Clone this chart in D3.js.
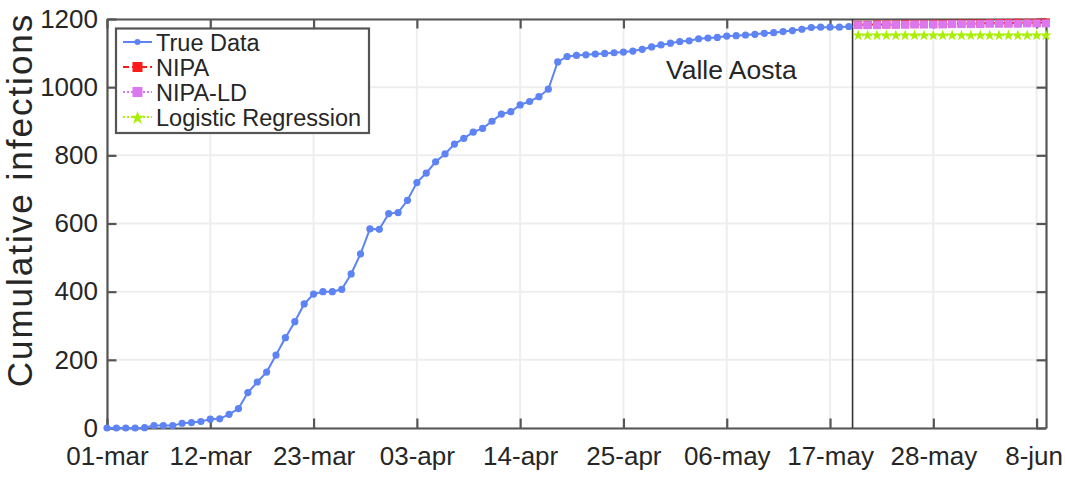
<!DOCTYPE html>
<html><head><meta charset="utf-8">
<script src="https://cdn.jsdelivr.net/npm/d3@7"></script>
<style>body{margin:0;background:#fff}svg{display:block}</style>
</head><body>
<svg id="c" width="1065" height="478"></svg>
<script>
// ---- data ----
const trueDays = d3.range(0, 80);
const trueData = [0,0,0,0,1,7,7,7,14,16,19,26,27,40,57,104,135,164,214,265,312,364,393,400,400,407,452,511,584,583,629,632,668,720,748,781,804,833,850,868,879,900,921,928,948,958,972,994,1074,1090,1093,1095,1097,1099,1101,1103,1106,1111,1118,1124,1129,1134,1136,1142,1144,1146,1150,1151,1153,1155,1158,1160,1163,1166,1170,1175,1176,1176,1176,1178];
const fcDays = d3.range(80, 101);
const nipa    = [1183,1183,1184,1184,1184,1185,1185,1185,1186,1186,1186,1187,1187,1187,1188,1188,1188,1189,1189,1189,1190];
const nipaLD  = [1182,1182,1182,1183,1183,1183,1184,1184,1184,1184,1185,1185,1185,1185,1186,1186,1186,1186,1187,1187,1187];
const logistic= [1152,1152,1152,1152,1152,1152,1152,1152,1152,1152,1152,1152,1152,1152,1152,1152,1152,1152,1152,1152,1152];
const xTickDays = [0,11,22,33,44,55,66,77,88,99];
const xTickLabels = ["01-mar","12-mar","23-mar","03-apr","14-apr","25-apr","06-may","17-may","28-may","8-jun"];
const yTicks = [0,200,400,600,800,1000,1200];
const splitDay = 79.4;
const seriesNames = ["True Data","NIPA","NIPA-LD","Logistic Regression"];
const colors = {true:"#5d83f4", nipa:"#ff1a1a", ld:"#dc78ef", lr:"#a8f000"};

// ---- layout ----
const L=107, R=1046, T=19, B=428;
const svg = d3.select("#c");
const x = d3.scaleLinear().domain([0,100]).range([L,R]);
const y = d3.scaleLinear().domain([0,1200]).range([B,T]);
const axisCol="#555", txt="#262626", font="Liberation Sans, Arial, sans-serif";

// grid
const g = svg.append("g");
g.selectAll(".gx").data(xTickDays).join("line")
 .attr("x1",d=>x(d)).attr("x2",d=>x(d)).attr("y1",T).attr("y2",B)
 .attr("stroke","#eeeeee").attr("stroke-width",2);
g.selectAll(".gy").data(yTicks).join("line")
 .attr("y1",d=>y(d)).attr("y2",d=>y(d)).attr("x1",L).attr("x2",R)
 .attr("stroke","#eeeeee").attr("stroke-width",2);

// axes with inward ticks
const tl = 9.5;
const xb = d3.axisBottom(x).tickValues(xTickDays).tickFormat((d,i)=>xTickLabels[i]).tickSizeInner(-tl).tickSizeOuter(0).tickPadding(19);
const xt = d3.axisTop(x).tickValues(xTickDays).tickFormat("").tickSizeInner(-tl).tickSizeOuter(0);
const yl = d3.axisLeft(y).tickValues(yTicks).tickFormat(d3.format("d")).tickSizeInner(-tl).tickSizeOuter(0).tickPadding(9);
const yr = d3.axisRight(y).tickValues(yTicks).tickFormat("").tickSizeInner(-tl).tickSizeOuter(0);
function style(sel){
  sel.selectAll("path").attr("stroke",axisCol).attr("stroke-width",2.2);
  sel.selectAll("line").attr("stroke",axisCol).attr("stroke-width",2.2);
  sel.selectAll("text").attr("fill",txt).attr("font-family",font).attr("font-size",26);
}
const xg = svg.append("g").attr("transform",`translate(0,${B})`).call(xb).call(style);
xg.selectAll(".tick text").filter((d,i)=>i===xTickDays.length-1).attr("dx",-3);
svg.append("g").attr("transform",`translate(0,${T})`).call(xt).call(style);
svg.append("g").attr("transform",`translate(${L},0)`).call(yl).call(style);
svg.append("g").attr("transform",`translate(${R},0)`).call(yr).call(style);

// y label
svg.append("text").attr("transform",`translate(32,200) rotate(-90)`)
 .attr("text-anchor","middle").attr("font-family",font).attr("font-size",35)
 .attr("letter-spacing",2.0).attr("fill",txt).text("Cumulative infections");

// split line
svg.append("line").attr("x1",x(splitDay)).attr("x2",x(splitDay)).attr("y1",T).attr("y2",B)
 .attr("stroke","#333").attr("stroke-width",1.6);

// annotation
svg.append("text").attr("x",666).attr("y",79).attr("font-family",font).attr("font-size",26.5)
 .attr("fill",txt).text("Valle Aosta");

// true data
const line = d3.line().x(d=>x(d[0])).y(d=>y(d[1]));
const td = trueDays.map((d,i)=>[d,trueData[i]]);
svg.append("path").datum(td).attr("d",line).attr("fill","none").attr("stroke",colors.true).attr("stroke-width",2);
svg.selectAll(".td").data(td).join("circle").attr("cx",d=>x(d[0])).attr("cy",d=>y(d[1])).attr("r",3.6).attr("fill",colors.true);

// forecasts
function sqSeries(vals,col,dash,sz){
  const dd=fcDays.map((d,i)=>[d,vals[i]]);
  svg.append("path").datum(dd).attr("d",line).attr("fill","none").attr("stroke",col).attr("stroke-width",2).attr("stroke-dasharray",dash);
  svg.selectAll(null).data(dd).join("rect").attr("x",d=>x(d[0])-sz/2).attr("y",d=>y(d[1])-sz/2).attr("width",sz).attr("height",sz).attr("fill",col);
}
sqSeries(nipa,colors.nipa,"6,3",8);
sqSeries(nipaLD,colors.ld,"2,2",8);
const lrd=fcDays.map((d,i)=>[d,logistic[i]]);
svg.append("path").datum(lrd).attr("d",line).attr("fill","none").attr("stroke",colors.lr).attr("stroke-width",2).attr("stroke-dasharray","2,2");
const star=d3.symbol().type(d3.symbolStar).size(40);
svg.selectAll(null).data(lrd).join("path").attr("d",star).attr("transform",d=>`translate(${x(d[0])},${y(d[1])})`).attr("fill",colors.lr);

// legend
const lg = svg.append("g");
lg.append("rect").attr("x",116).attr("y",28.5).attr("width",253).attr("height",104.5).attr("fill","#fff").attr("stroke",axisCol).attr("stroke-width",2.2);
const rows=[42,67,92,117];
const lx1=123, lx2=152, lmx=137.5;
seriesNames.forEach((n,i)=>{
  const yy=rows[i];
  const col=[colors.true,colors.nipa,colors.ld,colors.lr][i];
  const dash=[null,"6,3","2,2","2,2"][i];
  lg.append("line").attr("x1",lx1).attr("x2",lx2).attr("y1",yy).attr("y2",yy).attr("stroke",col).attr("stroke-width",2).attr("stroke-dasharray",dash);
  if(i===0) lg.append("circle").attr("cx",lmx).attr("cy",yy).attr("r",3).attr("fill",col);
  else if(i<3) lg.append("rect").attr("x",lmx-5).attr("y",yy-5).attr("width",10).attr("height",10).attr("fill",col);
  else lg.append("path").attr("d",d3.symbol().type(d3.symbolStar).size(60)()).attr("transform",`translate(${lmx},${yy+1})`).attr("fill",col);
  lg.append("text").attr("x",156).attr("y",yy+8.5).attr("font-family",font).attr("font-size",23.5).attr("fill",txt).text(n);
});
</script>
</body></html>
